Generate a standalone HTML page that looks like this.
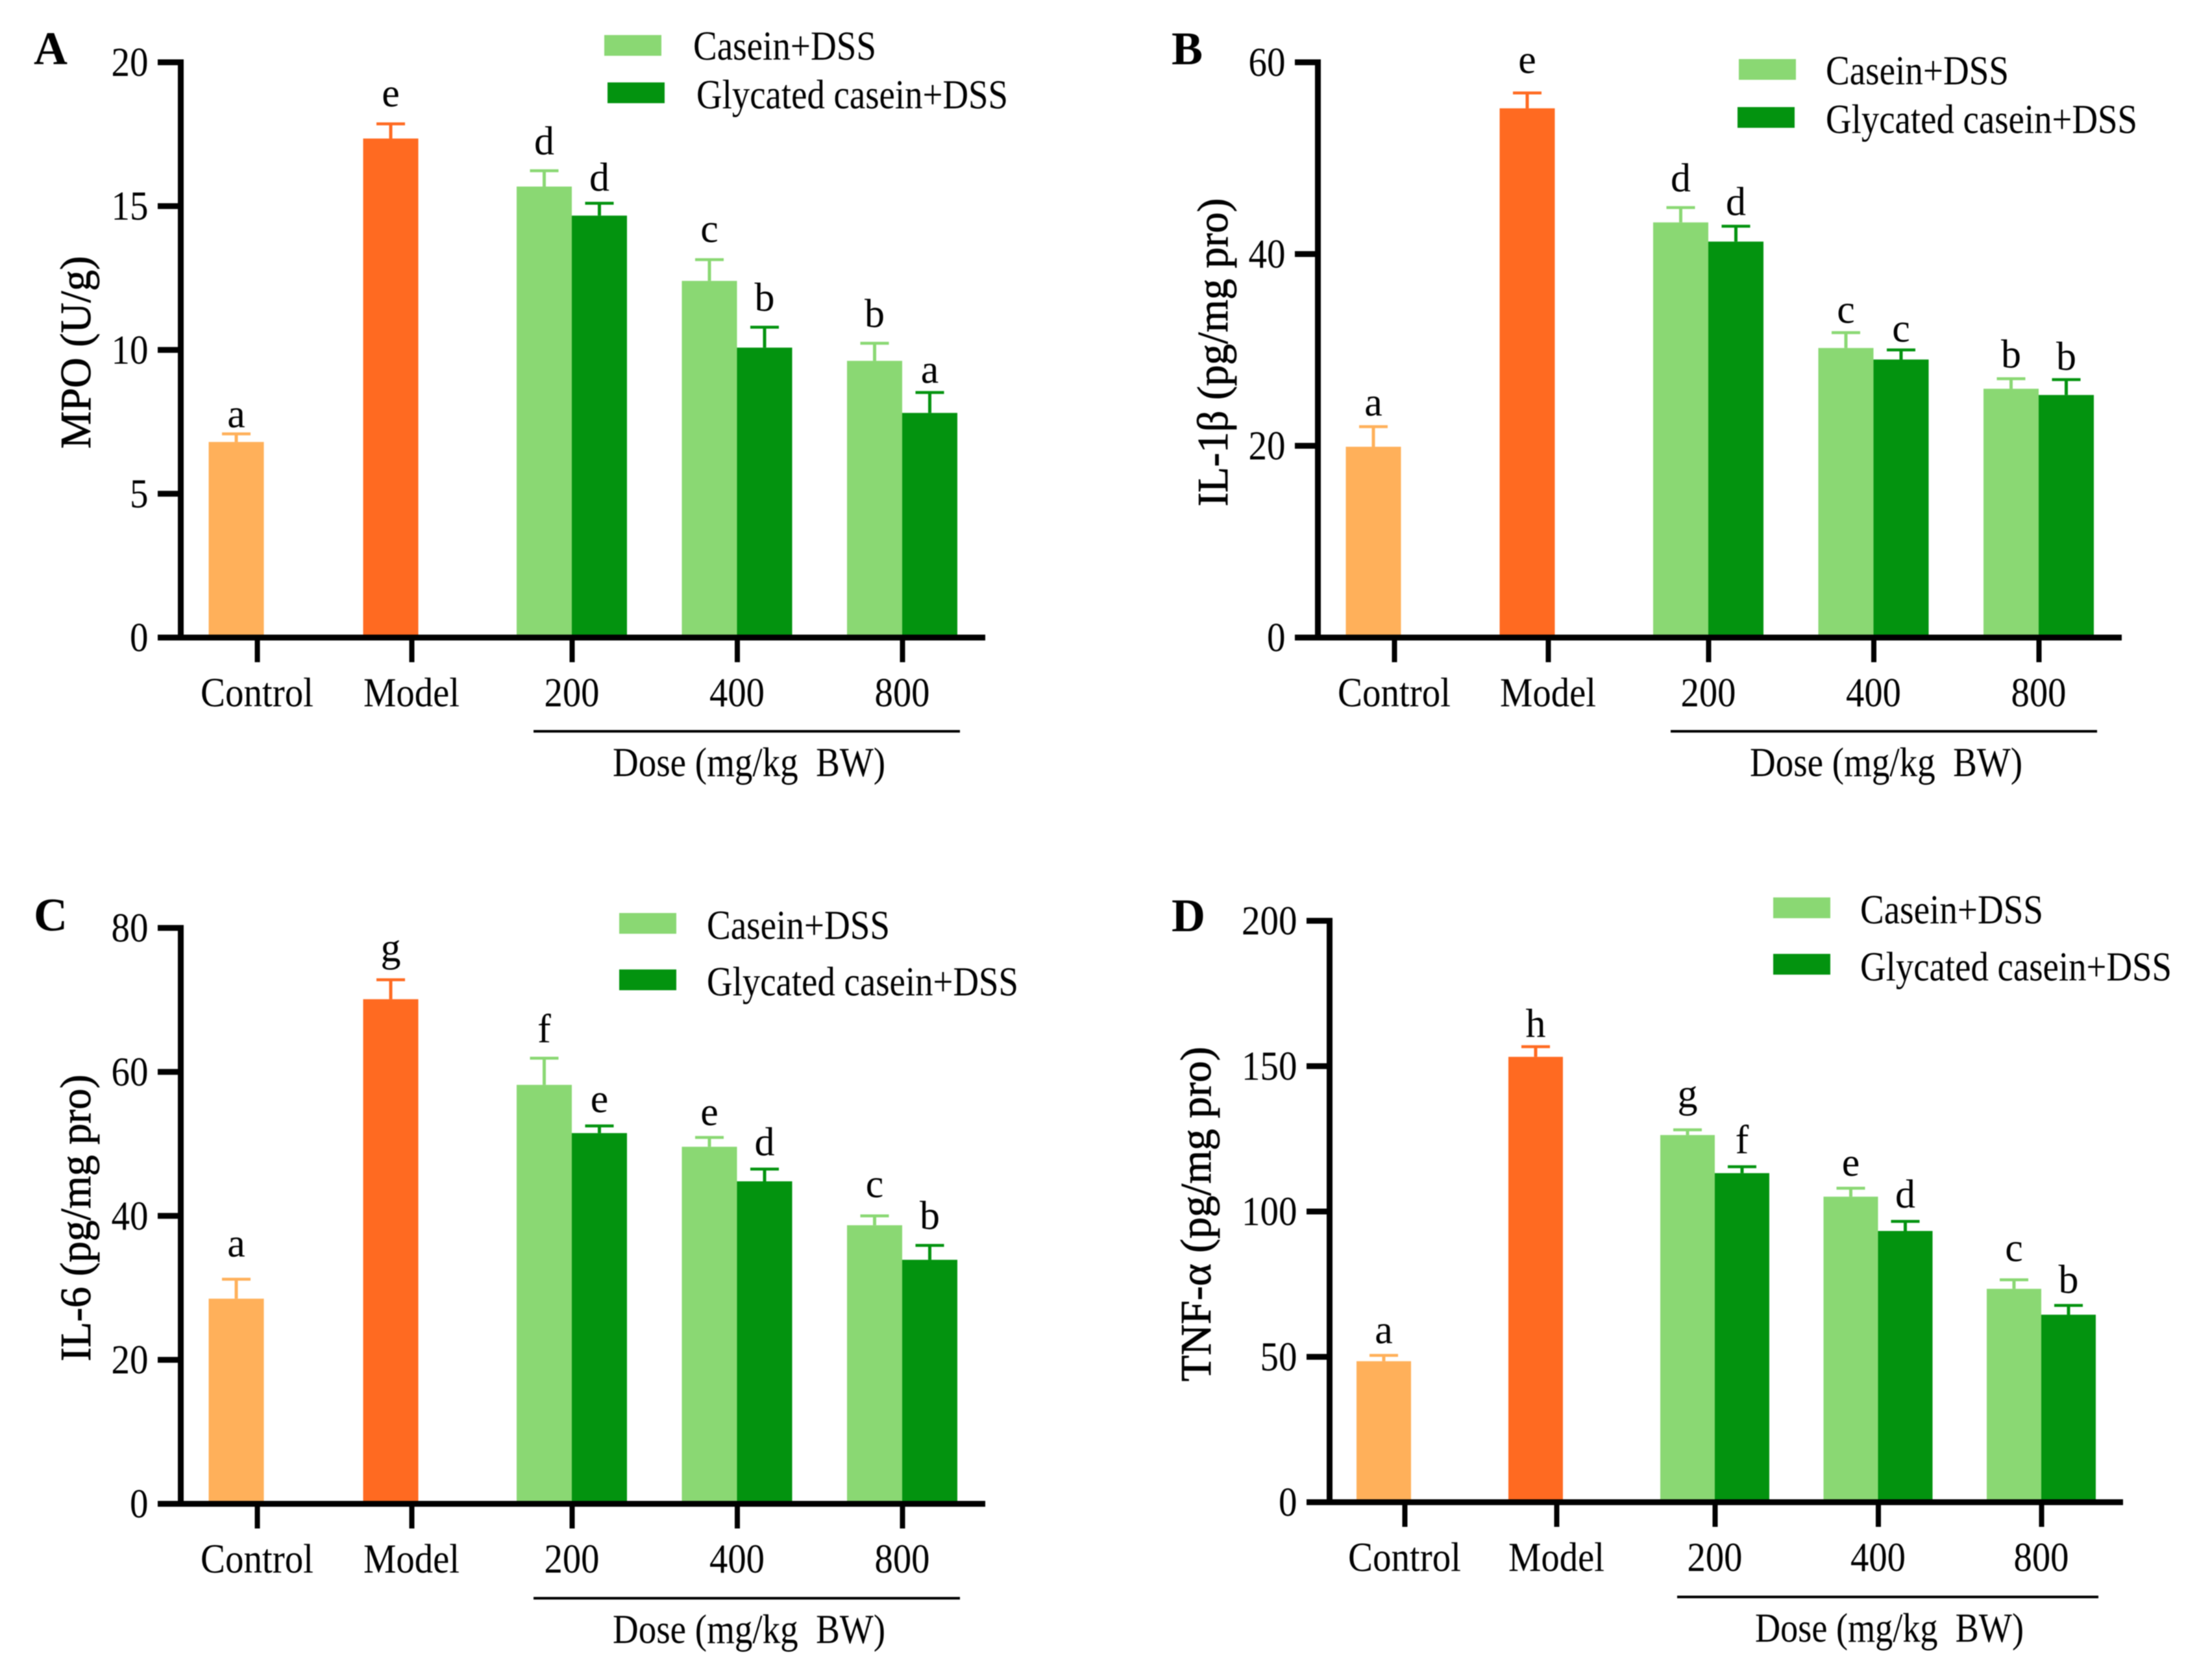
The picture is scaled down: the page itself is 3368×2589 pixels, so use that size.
<!DOCTYPE html>
<html lang="en">
<head>
<meta charset="utf-8">
<title>MPO and cytokine levels</title>
<style>
html,body{margin:0;padding:0;background:#fff;}
svg{display:block;font-family:"Liberation Serif","Noto Serif CJK SC",serif;fill:#000;filter:blur(0.7px);}
text{white-space:pre;}
</style>
</head>
<body>
<svg id="figure" xmlns="http://www.w3.org/2000/svg" width="3368" height="2589" viewBox="0 0 3368 2589">
<rect width="3368" height="2589" fill="#fff"/>
</svg>
<script>
// Shared categories and legend
const categories = ['Control', 'Model', '200', '400', '800'];
const legendLabels = ['Casein+DSS', 'Glycated casein+DSS'];
const doseTitle = 'Dose (mg/kg  BW)';

// Panel A: MPO
const mpoTicks = [0, 5, 10, 15, 20];
const mpoValues = [6.8, 17.35, 15.68, 14.67, 12.4, 10.08, 9.62, 7.81];
const mpoErrors = [0.28, 0.51, 0.55, 0.43, 0.74, 0.71, 0.61, 0.71];
const mpoLetters = ['a', 'e', 'd', 'd', 'c', 'b', 'b', 'a'];

// Panel B: IL-1beta
const il1Ticks = [0, 20, 40, 60];
const il1Values = [19.9, 55.2, 43.3, 41.3, 30.2, 29.0, 25.95, 25.3];
const il1Errors = [2.1, 1.6, 1.55, 1.6, 1.6, 1.0, 1.05, 1.6];
const il1Letters = ['a', 'e', 'd', 'd', 'c', 'c', 'b', 'b'];

// Panel C: IL-6
const il6Ticks = [0, 20, 40, 60, 80];
const il6Values = [28.5, 70.1, 58.2, 51.5, 49.6, 44.8, 38.7, 33.9];
const il6Errors = [2.7, 2.7, 3.7, 1.0, 1.3, 1.7, 1.3, 2.0];
const il6Letters = ['a', 'g', 'f', 'e', 'e', 'd', 'c', 'b'];

// Panel D: TNF-alpha
const tnfTicks = [0, 50, 100, 150, 200];
const tnfValues = [48.5, 153.2, 126.3, 113.2, 105.1, 93.3, 73.4, 64.5];
const tnfErrors = [2.0, 3.5, 1.8, 2.2, 2.9, 3.3, 3.1, 3.2];
const tnfLetters = ['a', 'h', 'g', 'f', 'e', 'd', 'c', 'b'];

const SVG_NS = 'http://www.w3.org/2000/svg';
const figure = document.getElementById('figure');
const CONTROL_COLOR = '#FFB05A';
const MODEL_COLOR = '#FF6A21';
const CASEIN_COLOR = '#8AD873';
const GLYCATED_COLOR = '#03930F';
const TEXT_SIZE = 64;

function make(parent, tag, attrs, content) {
  const el = document.createElementNS(SVG_NS, tag);
  for (const key in attrs) el.setAttribute(key, attrs[key]);
  if (content !== undefined) el.textContent = content;
  parent.appendChild(el);
  return el;
}

function drawPanel(cfg) {
  const g = make(figure, 'g', {});
  
  

  // Axis functions
  const yScale = v => cfg.y0 - (v - cfg.ticks[0]) / (cfg.ticks[cfg.ticks.length - 1] - cfg.ticks[0]) * (cfg.y0 - cfg.yTop);
  const xTick = i => i === 0 ? cfg.x0 : i === 1 ? cfg.x0 + cfg.modelGap : cfg.x0 + cfg.doseStart + (i - 2) * cfg.doseStep;
  const barW = cfg.barW;

  // Bars: the series index runs control, model, then a casein/glycated pair per dose
  cfg.values.forEach((value, s) => {
    let left, color, name;
    if (s < 2) {
      left = xTick(s) - 32 - barW / 2;
      color = s === 0 ? CONTROL_COLOR : MODEL_COLOR;
      name = categories[s].toLowerCase();
    } else {
      const group = 2 + Math.floor((s - 2) / 2);
      const second = (s - 2) % 2 === 1;
      left = xTick(group) - (second ? 0 : barW);
      color = second ? GLYCATED_COLOR : CASEIN_COLOR;
      name = (second ? 'glycated-casein-' : 'casein-') + categories[group];
    }
    const top = yScale(value);
    const errTop = yScale(value + cfg.errors[s]);
    const cx = left + barW / 2;

    const bar = make(g, 'rect', { x: left, y: top, width: barW, height: cfg.y0 - top, fill: color });
    
    

    const stem = make(g, 'line', { x1: cx, x2: cx, y1: top, y2: errTop, stroke: color, 'stroke-width': 5 });
    
    

    const cap = make(g, 'line', { x1: cx - 22, x2: cx + 22, y1: errTop, y2: errTop, stroke: color, 'stroke-width': 4.5 });
    
    

    const letter = make(g, 'text', { x: cx, y: errTop - 21 + cfg.letterNudge[s], 'text-anchor': 'middle', 'font-size': 62 }, cfg.letters[s]);
    
    
  });

  // Y axis
  const yAxis = make(g, 'line', { x1: cfg.axisX, x2: cfg.axisX, y1: cfg.yTop - 4.5, y2: cfg.y0 + 4.5, stroke: '#000', 'stroke-width': 9 });
  
  

  cfg.ticks.forEach(t => {
    const y = yScale(t);
    const tick = make(g, 'line', { x1: cfg.axisX - 35.5, x2: cfg.axisX, y1: y, y2: y, stroke: '#000', 'stroke-width': 9 });
    
    
    const label = make(g, 'text', { x: cfg.axisX - 50, y: y + 21, 'text-anchor': 'end', 'font-size': TEXT_SIZE, textLength: String(t).length * 28.5, lengthAdjust: 'spacingAndGlyphs' }, String(t));
    
    
  });

  const yTitle = make(g, 'text', { transform: 'translate(' + cfg.titleX + ' ' + cfg.titleY + ') rotate(-90)', 'text-anchor': 'middle', 'font-size': 67, textLength: cfg.titleLen, lengthAdjust: 'spacingAndGlyphs', stroke: '#000', 'stroke-width': 0.8 }, cfg.title);
  
  

  // X axis
  const xAxis = make(g, 'line', { x1: cfg.axisX - 35.5, x2: cfg.axisRight, y1: cfg.y0, y2: cfg.y0, stroke: '#000', 'stroke-width': 9 });
  
  

  const catWidths = [174, 148, 85, 85, 85];
  categories.forEach((c, i) => {
    const x = xTick(i);
    const tick = make(g, 'line', { x1: x + 0.5, x2: x + 0.5, y1: cfg.y0, y2: cfg.y0 + 38, stroke: '#000', 'stroke-width': 8 });
    
    
    const label = make(g, 'text', { x: x, y: cfg.y0 + 106, 'text-anchor': 'middle', 'font-size': TEXT_SIZE, textLength: catWidths[i], lengthAdjust: 'spacingAndGlyphs' }, c);
    
    
  });

  // Dose bracket
  const doseLine = make(g, 'line', { x1: cfg.doseX1, x2: cfg.doseX2, y1: cfg.doseY, y2: cfg.doseY, stroke: '#000', 'stroke-width': 4 });
  
  
  const dose = make(g, 'text', { x: cfg.doseTextX, y: cfg.doseY + 69, 'text-anchor': 'middle', 'font-size': TEXT_SIZE, textLength: cfg.doseLen, lengthAdjust: 'spacingAndGlyphs' }, doseTitle);
  
  

  // Panel letter
  const panelLetter = make(g, 'text', { x: cfg.letterX, y: cfg.letterY, 'font-size': 72, 'font-weight': 'bold' }, cfg.id);
  
  

  // Legend
  const legend = make(g, 'g', {});
  
  
  [CASEIN_COLOR, GLYCATED_COLOR].forEach((color, i) => {
    const row = cfg.legend[i];
    const swatch = make(legend, 'rect', { x: row.sx, y: row.sy, width: 88, height: 32, fill: color });
    
    
    const text = make(legend, 'text', { x: row.tx, y: row.ty, 'font-size': TEXT_SIZE, textLength: i === 0 ? 282 : 480, lengthAdjust: 'spacingAndGlyphs' }, legendLabels[i]);
    
    
  });
}

drawPanel({
  id: 'A', ticks: mpoTicks, values: mpoValues, errors: mpoErrors, letters: mpoLetters,
  letterNudge: [11, -6, -4, 2, -6, -4, -4, 6],
  title: 'MPO (U/g)', titleX: 139, titleY: 543, titleLen: 297,
  axisX: 278.5, axisRight: 1518, yTop: 96, y0: 982.5, x0: 396, modelGap: 238, doseStart: 485, doseStep: 254.5, barW: 85,
  doseX1: 822, doseX2: 1479, doseY: 1127, doseTextX: 1154, doseLen: 420, letterX: 52, letterY: 99,
  legend: [{ sx: 931, sy: 54, tx: 1068, ty: 92 }, { sx: 936, sy: 127, tx: 1073, ty: 167 }]
});
drawPanel({
  id: 'B', ticks: il1Ticks, values: il1Values, errors: il1Errors, letters: il1Letters,
  letterNudge: [4, -10, -4, 4, 6, 8, 4, 6],
  title: 'IL-1\u03B2 (pg/mg pro)', titleX: 1891, titleY: 543, titleLen: 475,
  axisX: 2030.5, axisRight: 3269, yTop: 96, y0: 982.5, x0: 2148, modelGap: 237, doseStart: 484, doseStep: 254.5, barW: 85,
  doseX1: 2574, doseX2: 3231, doseY: 1127, doseTextX: 2906, doseLen: 420, letterX: 1805, letterY: 99,
  legend: [{ sx: 2679, sy: 91, tx: 2813, ty: 130 }, { sx: 2677, sy: 165, tx: 2813, ty: 205 }]
});
drawPanel({
  id: 'C', ticks: il6Ticks, values: il6Values, errors: il6Errors, letters: il6Letters,
  letterNudge: [-14, -8, -4, 0, 2, 0, -8, -4],
  title: 'IL-6 (pg/mg pro)', titleX: 139, titleY: 1877, titleLen: 442,
  axisX: 278.5, axisRight: 1518, yTop: 1430, y0: 2317.5, x0: 396, modelGap: 238, doseStart: 485, doseStep: 254.5, barW: 85,
  doseX1: 822, doseX2: 1479, doseY: 2463, doseTextX: 1154, doseLen: 420, letterX: 52, letterY: 1434,
  legend: [{ sx: 954, sy: 1407, tx: 1089, ty: 1447 }, { sx: 954, sy: 1494, tx: 1089, ty: 1534 }]
});
drawPanel({
  id: 'D', ticks: tnfTicks, values: tnfValues, errors: tnfErrors, letters: tnfLetters,
  letterNudge: [2, 6, -14, 0, 2, 0, -8, 2],
  title: 'TNF-\u03B1 (pg/mg pro)', titleX: 1865, titleY: 1871, titleLen: 516,
  axisX: 2048.5, axisRight: 3271, yTop: 1419, y0: 2315, x0: 2164, modelGap: 234, doseStart: 478, doseStep: 251.5, barW: 84,
  doseX1: 2584, doseX2: 3233, doseY: 2461, doseTextX: 2911, doseLen: 414, letterX: 1805, letterY: 1435,
  legend: [{ sx: 2732, sy: 1383, tx: 2866, ty: 1423 }, { sx: 2732, sy: 1470, tx: 2866, ty: 1511 }]
});
</script>
</body>
</html>
